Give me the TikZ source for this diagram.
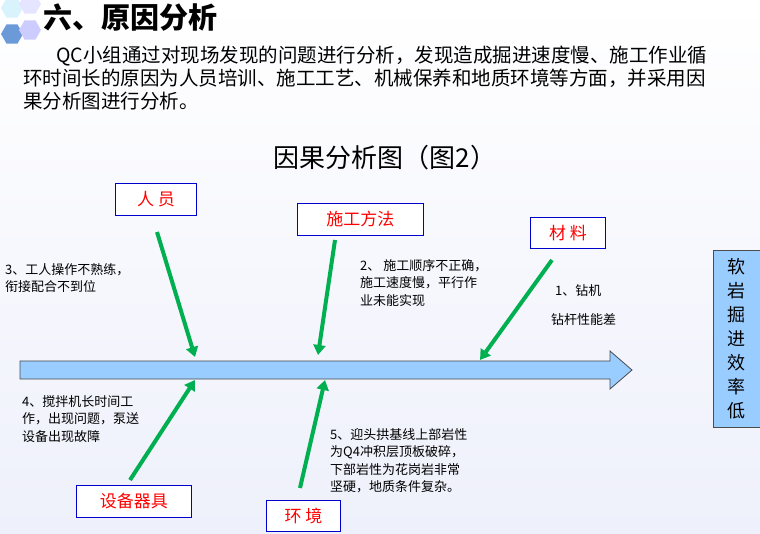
\documentclass[tikz,border=0pt]{standalone}
\usepackage{fontspec}
\setmainfont{Noto Sans CJK SC}
\usetikzlibrary{shapes.geometric,arrows.meta}
\definecolor{bgc}{HTML}{EEF0FB}
\definecolor{arr}{HTML}{99CCFF}
\definecolor{grn}{HTML}{00B050}
\begin{document}
\begin{tikzpicture}[x=1pt,y=-1pt,
  lbl/.style={draw=blue!80!black,line width=0.9pt,fill=white,text=red,font=\fontsize{17}{17}\selectfont,inner sep=0pt,anchor=north west},
  cause/.style={grn,line width=4pt,-{Triangle[length=10pt,width=12pt]}},
  txt/.style={font=\fontsize{13}{17.5}\selectfont,align=left,anchor=north west,inner sep=0pt}]
\useasboundingbox (0,0) rectangle (760,534);
\shade[top color=white,bottom color=bgc] (0,0) rectangle (760,534);
\foreach \x/\y/\c in {12/8/cyan!15,30/4/blue!10,12/34/cyan!50!blue!60,30/30/blue!20}
  \node[regular polygon,regular polygon sides=6,fill=\c,minimum size=22pt,inner sep=0pt] at (\x,\y) {};
\node[anchor=west,font=\fontsize{29}{29}\selectfont\bfseries] (h) at (40,18) {六、原因分析};
\node[txt,font=\fontsize{19.5}{23}\selectfont] (p) at (23,46) {\hspace*{1.7em}QC小组通过对现场发现的问题进行分析，发现造成掘进速度慢、施工作业循\\环时间长的原因为人员培训、施工工艺、机械保养和地质环境等方面，并采用因\\果分析图进行分析。};
\node[font=\fontsize{26}{26}\selectfont] (t) at (385,158) {因果分析图（图2）};
\draw[line width=0.8pt,draw=black!70,fill=arr] (20,361) -- (610,361) -- (610,351) -- (632,370) -- (610,389) -- (610,379) -- (20,379) -- cycle;
\coordinate (s1) at (195,357); \coordinate (s2) at (318,355); \coordinate (s3) at (480,360);
\coordinate (s4) at (195,380); \coordinate (s5) at (325,380);
\node[draw=black!70,fill=arr,minimum width=47pt,minimum height=177pt,anchor=north west,inner sep=0pt] (eff) at (713,250) {};
\node[font=\fontsize{18}{24}\selectfont,align=center] at (eff) {软\\岩\\掘\\进\\效\\率\\低};
\node[lbl,minimum width=81pt,minimum height=32pt] (ry) at (115,183) {人 员};
\node[lbl,minimum width=126pt,minimum height=32pt] (sg) at (297,203) {施工方法};
\node[lbl,minimum width=75pt,minimum height=31pt] (cl) at (530,217) {材 料};
\node[lbl,minimum width=115pt,minimum height=32pt] (sb) at (76,485) {设备器具};
\node[lbl,minimum width=74pt,minimum height=31pt] (hj) at (266,500) {环 境};
\coordinate (a1) at (157,232); \coordinate (a2) at (335,240); \coordinate (a3) at (552,260);
\coordinate (a4) at (130,480); \coordinate (a5) at (300,488);
\draw[cause] (a1) -- (s1); \draw[cause] (a2) -- (s2); \draw[cause] (a3) -- (s3);
\draw[cause] (a4) -- (s4); \draw[cause] (a5) -- (s5);
\node[txt] (t3) at (5,263) {3、工人操作不熟练，\\衔接配合不到位};
\node[txt] (t2) at (360,259) {2、 施工顺序不正确，\\施工速度慢，平行作\\业未能实现};
\node[txt] (t1a) at (555,284) {1、钻机};
\node[txt] (t1b) at (551,313) {钻杆性能差};
\node[txt] (t4) at (22,395) {4、搅拌机长时间工\\作，出现问题，泵送\\设备出现故障};
\node[txt] (t5) at (330,428) {5、迎头拱基线上部岩性\\为Q4冲积层顶板破碎，\\下部岩性为花岗岩非常\\坚硬，地质条件复杂。};
\end{tikzpicture}
\end{document}
